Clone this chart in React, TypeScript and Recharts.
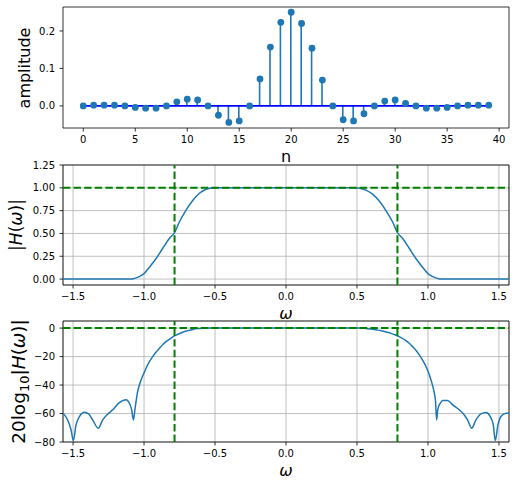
import React from "react";
import {
  ComposedChart,
  LineChart,
  Line,
  Bar,
  XAxis,
  YAxis,
  CartesianGrid,
  ReferenceLine,
  ReferenceArea,
} from "recharts";

// filter taps (stem plot)
const taps = [
  0, 1, 2, 3, 4, 5, 6, 7, 8, 9, 10, 11, 12, 13, 14, 15, 16, 17, 18, 19, 20, 21, 22, 23, 24, 25, 26, 27,
  28, 29, 30, 31, 32, 33, 34, 35, 36, 37, 38, 39,
];
const coeffs = [
  0, 0.002, 0.002, 0.002, 0, -0.004, -0.006, -0.006, 0, 0.011, 0.018, 0.016, 0, -0.025, -0.044, -0.04, 0,
  0.072, 0.157, 0.223, 0.25, 0.22, 0.154, 0.069, 0, -0.037, -0.04, -0.021, 0, 0.013, 0.016, 0.007, 0,
  -0.006, -0.006, -0.004, 0, 0.002, 0.002, 0.002,
];
const nTicks = [0, 5, 10, 15, 20, 25, 30, 35, 40];
const ampTicks = [0, 0.1, 0.2];

// frequency axis
const omegaTicks = [-1.5, -1, -0.5, 0, 0.5, 1, 1.5];
const cutoffs = [-0.785, 0.785];
const magTicks = [0, 0.25, 0.5, 0.75, 1, 1.25];
const dbTicks = [-80, -60, -40, -20, 0];

// |H(w)|
const magOmega = [
  -1.571, -1.2, -1.1, -1.075, -1.056, -1.03, -1.0, -0.962, -0.915, -0.869, -0.822, -0.785, -0.751, -0.704,
  -0.657, -0.61, -0.563, -0.52, -0.48, 0, 0.48, 0.52, 0.563, 0.61, 0.657, 0.704, 0.751, 0.785, 0.822, 0.869,
  0.915, 0.962, 1.0, 1.03, 1.056, 1.075, 1.1, 1.2, 1.571,
];
const magValues = [
  0, 0, 0, 0.004, 0.013, 0.03, 0.06, 0.13, 0.225, 0.335, 0.445, 0.51, 0.625, 0.755, 0.86, 0.94, 0.985,
  0.998, 1, 1, 1, 0.996, 0.975, 0.93, 0.855, 0.75, 0.625, 0.51, 0.445, 0.335, 0.225, 0.13, 0.06, 0.03,
  0.013, 0.004, 0, 0, 0,
];

// 20log10|H(w)|
const dbOmega = [
  -1.571, -1.538, -1.514, -1.498, -1.479, -1.455, -1.42, -1.39, -1.362, -1.322, -1.291, -1.256, -1.221,
  -1.174, -1.127, -1.103, -1.087, -1.075, -1.063, -1.045, -1.033, -1.021, -1.0, -0.986, -0.962, -0.939,
  -0.915, -0.892, -0.869, -0.845, -0.815, -0.786, -0.757, -0.728, -0.692, -0.657, -0.62, -0.587, -0.54, 0,
  0.54, 0.563, 0.6, 0.634, 0.67, 0.704, 0.74, 0.775, 0.81, 0.845, 0.87, 0.892, 0.915, 0.939, 0.962, 0.986,
  1.005, 1.021, 1.033, 1.045, 1.053, 1.061, 1.068, 1.075, 1.09, 1.103, 1.138, 1.174, 1.221, 1.256, 1.279,
  1.308, 1.338, 1.373, 1.408, 1.439, 1.46, 1.474, 1.493, 1.514, 1.549, 1.571,
];
const dbValues = [
  -59.8, -64.5, -71.5, -79, -68, -62.1, -59.1, -60.3, -64.5, -70.3, -64.5, -60.5, -57.4, -52.3, -50.4,
  -52.8, -57.4, -64.5, -56.3, -44.6, -40, -36.4, -31.5, -28.2, -23.6, -20, -16.8, -14.2, -11.7, -9.5, -7.3,
  -5.5, -4.1, -2.9, -1.8, -0.9, -0.35, -0.1, 0, 0, 0, -0.25, -0.6, -1.2, -1.8, -2.7, -3.7, -5.0, -6.7, -8.8,
  -10.8, -13, -15.5, -18.8, -22.5, -27, -31.5, -36.4, -40.5, -45.7, -51, -64.5, -58, -55, -52.3, -50.9,
  -50.9, -53.9, -57.4, -61, -64.5, -70.3, -64.5, -60.3, -59.3, -62.1, -68, -79, -68, -62.1, -59.8, -59.8,
];

const stemData = taps.map((n, i) => ({ n, h: coeffs[i], base: 0 }));
const magData = magOmega.map((w, i) => ({ w, m: magValues[i] }));
const dbData = dbOmega.map((w, i) => ({ w, d: dbValues[i] }));

const FONT = "DejaVu Sans, Verdana, sans-serif";
const BLUE = "#1f77b4";
const GREEN = "#008000";
const tickStyle = { fill: "#000", fontSize: 10, fontFamily: FONT };
const minus = (s: string) => s.replace("-", "\u2212");
const W = 516;
const H = 488;
const OMEGA_DOMAIN: [number, number] = [-1.5708, 1.5708];

export default function App() {
  return (
    <div style={{ position: "absolute", left: 0, top: 0, width: W, height: H, background: "#fff" }}>
      {/* stem plot */}
      <div style={{ position: "absolute", left: 0, top: 0 }}>
        <ComposedChart width={W} height={H} data={stemData} margin={{ top: 7, right: 7, left: 0, bottom: 320 }}>
          <XAxis
            dataKey="n"
            type="number"
            domain={[-1.95, 40.95]}
            allowDataOverflow
            ticks={nTicks}
            interval={0}
            height={40}
            tick={tickStyle}
            tickSize={3.5}
            tickMargin={4}
            tickLine={{ stroke: "#000", strokeWidth: 0.8 }}
            axisLine={false}
          />
          <YAxis
            type="number"
            domain={[-0.059, 0.264]}
            allowDataOverflow
            ticks={ampTicks}
            interval={0}
            width={63}
            tick={tickStyle}
            tickSize={3.5}
            tickMargin={4.5}
            tickFormatter={(v: number) => v.toFixed(1)}
            tickLine={{ stroke: "#000", strokeWidth: 0.8 }}
            axisLine={false}
          />
          <Bar dataKey="h" barSize={1.6} fill={BLUE} isAnimationActive={false} />
          <Line dataKey="base" stroke="#0000ff" strokeWidth={1.6} dot={false} activeDot={false} isAnimationActive={false} />
          <Line
            dataKey="h"
            stroke="none"
            dot={{ r: 3.4, fill: BLUE, stroke: "none" }}
            activeDot={false}
            isAnimationActive={false}
          />
          <ReferenceArea x1={-1.95} x2={40.95} y1={-0.059} y2={0.264} fill="none" stroke="#000" strokeWidth={0.8} />
        </ComposedChart>
      </div>

      {/* magnitude */}
      <div style={{ position: "absolute", left: 0, top: 0 }}>
        <LineChart width={W} height={H} data={magData} margin={{ top: 165, right: 7, left: 0, bottom: 163 }}>
          <CartesianGrid stroke="#b0b0b0" strokeWidth={0.8} />
          <XAxis
            dataKey="w"
            type="number"
            domain={OMEGA_DOMAIN}
            allowDataOverflow
            ticks={omegaTicks}
            interval={0}
            height={40}
            tick={tickStyle}
            tickSize={3.5}
            tickMargin={4}
            tickFormatter={(v: number) => minus(v.toFixed(1))}
            tickLine={{ stroke: "#000", strokeWidth: 0.8 }}
            axisLine={false}
          />
          <YAxis
            type="number"
            domain={[-0.065, 1.25]}
            allowDataOverflow
            ticks={magTicks}
            interval={0}
            width={63}
            tick={tickStyle}
            tickSize={3.5}
            tickMargin={4.5}
            tickFormatter={(v: number) => v.toFixed(2)}
            tickLine={{ stroke: "#000", strokeWidth: 0.8 }}
            axisLine={false}
          />
          <Line type="monotone" dataKey="m" stroke={BLUE} strokeWidth={1.5} dot={false} activeDot={false} isAnimationActive={false} />
          {cutoffs.map((c) => (
            <ReferenceLine key={c} x={c} stroke={GREEN} strokeWidth={2} strokeDasharray="7.4 3.2" />
          ))}
          <ReferenceLine y={1} stroke={GREEN} strokeWidth={2} strokeDasharray="7.4 3.2" />
          <ReferenceArea x1={OMEGA_DOMAIN[0]} x2={OMEGA_DOMAIN[1]} y1={-0.065} y2={1.25} fill="none" stroke="#000" strokeWidth={0.8} />
        </LineChart>
      </div>

      {/* magnitude in dB */}
      <div style={{ position: "absolute", left: 0, top: 0 }}>
        <LineChart width={W} height={H} data={dbData} margin={{ top: 321, right: 7, left: 0, bottom: 6 }}>
          <CartesianGrid stroke="#b0b0b0" strokeWidth={0.8} />
          <XAxis
            dataKey="w"
            type="number"
            domain={OMEGA_DOMAIN}
            allowDataOverflow
            ticks={omegaTicks}
            interval={0}
            height={40}
            tick={tickStyle}
            tickSize={3.5}
            tickMargin={4}
            tickFormatter={(v: number) => minus(v.toFixed(1))}
            tickLine={{ stroke: "#000", strokeWidth: 0.8 }}
            axisLine={false}
          />
          <YAxis
            type="number"
            domain={[-80, 5]}
            allowDataOverflow
            ticks={dbTicks}
            interval={0}
            width={63}
            tick={tickStyle}
            tickSize={3.5}
            tickMargin={4.5}
            tickFormatter={(v: number) => minus(String(v))}
            tickLine={{ stroke: "#000", strokeWidth: 0.8 }}
            axisLine={false}
          />
          <Line type="monotone" dataKey="d" stroke={BLUE} strokeWidth={1.5} dot={false} activeDot={false} isAnimationActive={false} />
          {cutoffs.map((c) => (
            <ReferenceLine key={c} x={c} stroke={GREEN} strokeWidth={2} strokeDasharray="7.4 3.2" />
          ))}
          <ReferenceLine y={0} stroke={GREEN} strokeWidth={2} strokeDasharray="7.4 3.2" />
          <ReferenceArea x1={OMEGA_DOMAIN[0]} x2={OMEGA_DOMAIN[1]} y1={-80} y2={5} fill="none" stroke="#000" strokeWidth={0.8} />
        </LineChart>
      </div>

      {/* axis titles */}
      <svg width={W} height={H} style={{ position: "absolute", left: 0, top: 0, pointerEvents: "none" }}>
        <g fontFamily={FONT} fill="#000">
          <text x={286} y={161.5} fontSize={16} textAnchor="middle">n</text>
          <text transform="translate(30,68) rotate(-90)" fontSize={16} textAnchor="middle">amplitude</text>
          <text transform="translate(21.5,225) rotate(-90)" fontSize={17} textAnchor="middle">
            |<tspan fontStyle="italic">H</tspan>(<tspan fontStyle="italic">ω</tspan>)|
          </text>
          <text x={286} y={319} fontSize={16} textAnchor="middle" fontStyle="italic">ω</text>
          <text transform="translate(24.5,381.5) rotate(-90)" fontSize={18.5} textAnchor="middle">
            20log
            <tspan fontSize={13} dy={4}>10</tspan>
            <tspan dy={-4}>|</tspan>
            <tspan fontStyle="italic">H</tspan>(<tspan fontStyle="italic">ω</tspan>)|
          </text>
          <text x={286} y={476} fontSize={16} textAnchor="middle" fontStyle="italic">ω</text>
        </g>
      </svg>
    </div>
  );
}
